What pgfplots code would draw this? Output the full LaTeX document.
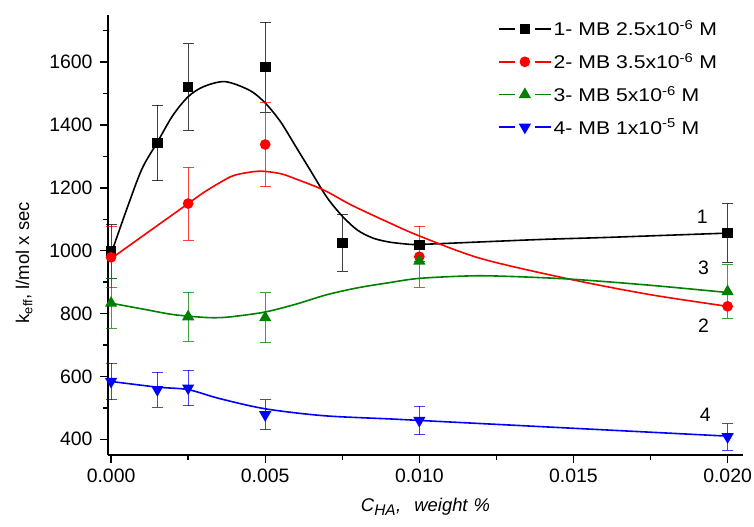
\documentclass[border=0pt]{standalone}
\usepackage{fontspec}
\setmainfont{Liberation Sans}
\newfontfamily\legfont{Liberation Sans}[FakeStretch=1.15]
\usepackage{pgfplots}
\pgfplotsset{compat=1.18}

\newcommand{\fs}{\fontsize{18.5}{22}\selectfont}
\newcommand{\tfs}{\fontsize{19.5}{22}\selectfont}

\begin{document}
\begin{tikzpicture}
\begin{axis}[
  scale only axis, width=635bp, height=440bp,
  xmin=-0.0001, xmax=0.0205, ymin=350, ymax=1750,
  clip=false,
  axis lines=left,
  axis line style={-, line width=1.8bp},
  tick align=outside,
  major tick length=8bp, minor tick length=5bp,
  tick style={line width=1.4bp, black},
  xtick={0,0.005,0.01,0.015,0.02},
  minor xtick={0.0025,0.0075,0.0125,0.0175},
  ytick={400,600,...,1600},
  minor ytick={500,700,...,1700},
  scaled x ticks=false,
  xticklabel={\pgfmathprintnumber[fixed,fixed zerofill,precision=3,assume math mode=true]{\tick}},
  yticklabel={\pgfmathprintnumber[fixed,precision=0,1000 sep={},assume math mode=true]{\tick}},
  tick label style={font=\tfs},
  x tick label style={yshift=-2bp},
  y tick label style={xshift=-4bp},
  xlabel={\textit{C\textsubscript{\fontsize{15.5}{16}\selectfont HA},\hspace{13bp}weight\hspace{6bp}\%}},
  ylabel={k\textsubscript{eff}, l/mol x sec},
  label style={font=\fs},
  ylabel style={at={(axis description cs:-0.132,0.437)}, anchor=center},
  xlabel style={at={(axis description cs:0.5,-0.118)}, anchor=center},
  legend style={draw=none, fill=none, at={(axis description cs:0.614,0.992)},
    anchor=north west, font=\legfont\fs, row sep=12bp, inner sep=0pt,
    /tikz/every even column/.append style={column sep=9bp}},
  legend cell align=left,
  legend image code/.code={
    \draw[#1,mark=none] (0bp,0bp) -- (16bp,0bp);
    \draw[#1,mark=none] (36bp,0bp) -- (52bp,0bp);
    \draw[#1] plot coordinates {(26bp,0bp)};
  },
  every axis plot/.append style={line width=1.6bp},
  myerr/.style={error bars/.cd, y dir=both, y explicit,
    error bar style={line width=0.9bp, opacity=0.75},
    error mark options={rotate=90, mark size=5.5bp, line width=0.9bp, opacity=0.75}},
]

\addlegendimage{black, mark=square*, mark size=4.5bp}
\addlegendentry{1- MB 2.5x10\textsuperscript{-6} M}
\addlegendimage{red, mark=*, mark size=4.5bp}
\addlegendentry{2- MB 3.5x10\textsuperscript{-6} M}
\addlegendimage{black!50!green, mark=triangle*, mark size=5.5bp}
\addlegendentry{3- MB 5x10\textsuperscript{-6} M}
\addlegendimage{blue, mark=triangle*, mark size=5.5bp, mark options={rotate=180}}
\addlegendentry{4- MB 1x10\textsuperscript{-5} M}

% fitted curves
\addplot[black, smooth, forget plot] coordinates {
  (0,990) (0.0005,1130) (0.001,1260) (0.0015,1345) (0.002,1430) (0.0025,1490)
  (0.003,1522) (0.0037,1538) (0.0045,1510) (0.005,1470) (0.0055,1410)
  (0.006,1330) (0.0065,1250) (0.007,1170) (0.0075,1110) (0.008,1065)
  (0.0085,1040) (0.009,1028) (0.0095,1022) (0.010,1020) (0.012,1028)
  (0.014,1036) (0.016,1042) (0.018,1049) (0.020,1056)};
\addplot[red, smooth, forget plot] coordinates {
  (0,975) (0.001,1045) (0.002,1115) (0.0025,1150) (0.003,1185) (0.0035,1215)
  (0.004,1240) (0.0048,1253) (0.0055,1245) (0.006,1228) (0.0069,1193)
  (0.0078,1145) (0.009,1090) (0.010,1047) (0.012,975) (0.0149,909)
  (0.0175,860) (0.020,823)};
\addplot[black!50!green, smooth, forget plot] coordinates {
  (0,833) (0.001,815) (0.002,797) (0.003,788) (0.0035,787) (0.004,791)
  (0.005,805) (0.006,830) (0.007,860) (0.008,882) (0.009,898) (0.010,912)
  (0.0117,920) (0.013,918) (0.015,909) (0.0175,890) (0.020,867)};
\addplot[blue, smooth, forget plot] coordinates {
  (0,584) (0.0015,566) (0.0025,558) (0.0035,530) (0.005,497) (0.0069,475)
  (0.009,465) (0.010,460) (0.015,435) (0.020,410)};

% measured points
\addplot[black, only marks, mark=square*, mark size=4.5bp, forget plot, myerr] coordinates {
  (0,997) +- (0,85)
  (0.0015,1343) +- (0,120)
  (0.0025,1521) +- (0,137)
  (0.005,1584) +- (0,143)
  (0.0075,1025) +- (0,90)
  (0.010,1018) +- (0,0)
  (0.020,1056) +- (0,93)};
\addplot[red, only marks, mark=*, mark size=4.5bp, forget plot, myerr] coordinates {
  (0,979) +- (0,97)
  (0.0025,1150) +- (0,116)
  (0.005,1338) +- (0,134)
  (0.010,981) +- (0,97)
  (0.020,823) +- (0,0)};
\addplot[black!50!green, only marks, mark=triangle*, mark size=5.5bp, forget plot, myerr] coordinates {
  (0,833) +- (0,80)
  (0.0025,790) +- (0,78)
  (0.005,787) +- (0,80)
  (0.010,967) +- (0,0)
  (0.020,870) +- (0,85)};
\addplot[blue, only marks, mark=triangle*, mark size=5.5bp, mark options={rotate=180}, forget plot, myerr] coordinates {
  (0,584) +- (0,58)
  (0.0015,558) +- (0,56)
  (0.0025,563) +- (0,56)
  (0.005,478) +- (0,48)
  (0.010,460) +- (0,45)
  (0.020,408) +- (0,42)};

\node[font=\tfs] at (axis cs:0.01918,1108) {1};
\node[font=\tfs] at (axis cs:0.01922,761) {2};
\node[font=\tfs] at (axis cs:0.01922,945) {3};
\node[font=\tfs] at (axis cs:0.01928,479) {4};
\end{axis}
\pgfresetboundingbox
\useasboundingbox (-108bp,-72bp) rectangle (646bp,455bp);
\end{tikzpicture}
\end{document}
